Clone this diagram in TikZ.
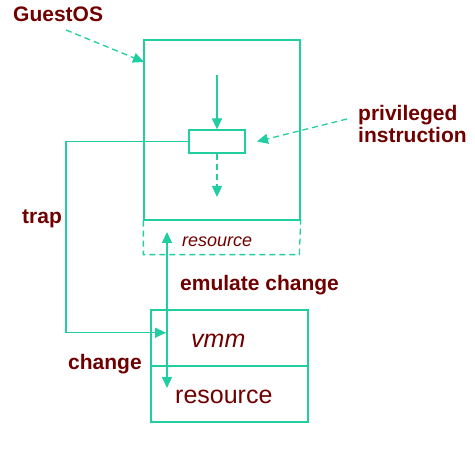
\documentclass[tikz,border=0pt]{standalone}
\usepackage{fontspec}
\setmainfont{Liberation Sans}
\usetikzlibrary{arrows.meta}
\definecolor{teal1}{RGB}{32,206,160}
\definecolor{dred}{RGB}{112,0,0}
\begin{document}
\begin{tikzpicture}[x=1pt,y=-1pt,
  line/.style={draw=teal1,line width=1.3pt},
  tip/.style={-{Triangle[length=11pt,width=10pt]}},
  dash1/.style={dash pattern=on 6pt off 4pt},
  lbl/.style={text=dred,font=\fontsize{21}{24}\selectfont\bfseries,inner sep=0pt},
  boxx/.style={line,rectangle,inner sep=0pt}]
\useasboundingbox (0,0) rectangle (475,470);
% boxes
\node[boxx,minimum width=156pt,minimum height=180pt] (guest) at (222,130) {};
\node[boxx,minimum width=56pt,minimum height=23pt] (instr) at (217,141.5) {};
\node[boxx,minimum width=157pt,minimum height=56pt] (vmm) at (229.5,338) {};
\node[boxx,minimum width=157pt,minimum height=56pt] (res) at (229.5,394) {};
\draw[line,dash1] (guest.south west) -- ++(0,34) -- ++(156,0) -- (guest.south east);
% texts
\node[text=dred,inner sep=0pt,anchor=base west,font=\fontsize{18}{20}\selectfont\itshape] (gres) at (182,247) {resource};
\node[text=dred,inner sep=0pt,anchor=base west,font=\fontsize{25}{28}\selectfont\itshape] (vmmt) at (191,348) {vmm};
\node[text=dred,inner sep=0pt,anchor=base west,font=\fontsize{25}{28}\selectfont] (rest) at (175,404) {resource};
\node[lbl,anchor=base west] (guestl) at (13,22) {GuestOS};
\node[lbl,anchor=base west] (priv) at (358,121) {privileged};
\node[lbl,anchor=base west] (instl) at (358,143) {instruction};
\node[lbl,anchor=base west] (trapl) at (22,224) {trap};
\node[lbl,anchor=base west] (emul) at (180,291) {emulate change};
\node[lbl,anchor=base west] (chg) at (68,370) {change};
% coordinates
\coordinate (g1) at (66,30);
\coordinate (g2) at (144,62);
\coordinate (p1) at (347,119);
\coordinate (p2) at (257,141.5);
\coordinate (d1) at (217,75);
\coordinate (d2) at (217,197);
\coordinate (t1) at (66,141.5);
\coordinate (t2) at (166,332.7);
\coordinate (e1) at (167,232);
\coordinate (e2) at (167,388);
% connectors
\draw[line,dash1,tip] (g1) -- (g2);
\draw[line,dash1,tip] (p1) -- (p2);
\draw[line,tip] (d1) -- (instr.north);
\draw[line,dash1,tip] (instr.south) -- (d2);
\draw[line,tip] (instr.west) -- (t1) |- (t2);
\draw[line,{Triangle[length=11pt,width=10pt]}-{Triangle[length=11pt,width=10pt]}] (e1) -- (e2);
\end{tikzpicture}
\end{document}
